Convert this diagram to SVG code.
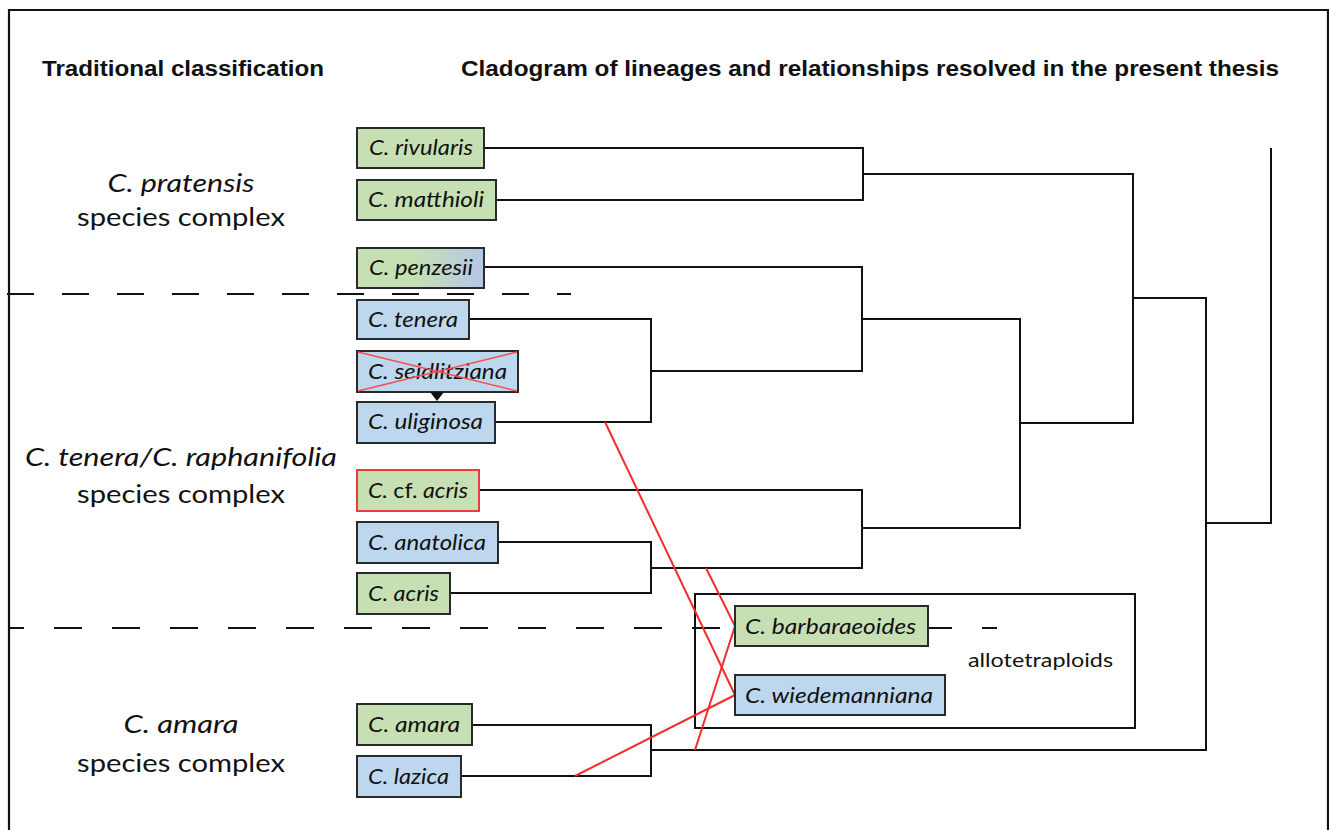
<svg xmlns="http://www.w3.org/2000/svg" width="1329" height="830" viewBox="0 0 1329 830">
<style>
.frame{fill:none;stroke:#111;stroke-width:2.2}
.hdr{font-family:"Liberation Sans",Arial,sans-serif;font-weight:bold;font-size:22px;fill:#111}
.grp{font-family:Lato,"Open Sans",sans-serif;font-size:25px;fill:#111}
.it{font-style:italic}
.lbl{font-family:Lato,"Open Sans",sans-serif;font-size:21px;font-style:italic;fill:#111}
.up{font-style:normal}
.box{stroke:#2a2a2a;stroke-width:2}
.g{fill:#c6e0b4}
.b{fill:#bdd7ee}
.dash{stroke:#111;stroke-width:2;fill:none}
.br{fill:none;stroke:#111;stroke-width:2;stroke-linejoin:miter}
.red{fill:none;stroke:#f42c2c;stroke-width:2}
.x{stroke:#f45050;stroke-width:1.4}
.note{font-family:Lato,"Open Sans",sans-serif;font-size:19px;fill:#111}
</style>
<defs>
<linearGradient id="gb" x1="0" y1="0" x2="1" y2="0">
<stop offset="0" stop-color="#c6e0b4"/>
<stop offset="0.45" stop-color="#c6e0b4"/>
<stop offset="1" stop-color="#b4c7e7"/>
</linearGradient>
</defs>
<rect width="1329" height="830" fill="#fff"/>
<path class="frame" d="M9,832 V10 H1328 V832"/>

<g id="headers">
<text class="hdr" x="42" y="76" textLength="282" lengthAdjust="spacingAndGlyphs">Traditional classification</text>
<text class="hdr" x="461" y="76" textLength="818" lengthAdjust="spacingAndGlyphs">Cladogram of lineages and relationships resolved in the present thesis</text>
</g>

<g id="groups">
<text class="grp it" x="181" y="192" text-anchor="middle" textLength="147" lengthAdjust="spacingAndGlyphs">C. pratensis</text>
<text class="grp" x="181" y="226" text-anchor="middle" textLength="208" lengthAdjust="spacingAndGlyphs">species complex</text>
<text class="grp it" x="181" y="466" text-anchor="middle" textLength="312" lengthAdjust="spacingAndGlyphs">C. tenera/C. raphanifolia</text>
<text class="grp" x="181" y="503" text-anchor="middle" textLength="208" lengthAdjust="spacingAndGlyphs">species complex</text>
<text class="grp it" x="181" y="733" text-anchor="middle" textLength="115" lengthAdjust="spacingAndGlyphs">C. amara</text>
<text class="grp" x="181" y="772" text-anchor="middle" textLength="208" lengthAdjust="spacingAndGlyphs">species complex</text>
</g>

<g id="dividers">
<line class="dash" x1="7" y1="294" x2="571" y2="294" stroke-dasharray="27 28"/>
<line class="dash" x1="10" y1="628" x2="997" y2="628" stroke-dasharray="28 30" stroke-dashoffset="14"/>
</g>

<g id="allotetraploids">
<rect x="695" y="594" width="440" height="134" fill="none" stroke="#111" stroke-width="2"/>
<text class="note" x="968" y="667" textLength="145" lengthAdjust="spacingAndGlyphs">allotetraploids</text>
</g>

<g id="connectors">
<path class="br" d="M484,148 H863 V200 H496"/>
<path class="br" d="M863,174 H1133 V423 H1020"/>
<path class="br" d="M484,267 H862 V371 H651"/>
<path class="br" d="M469,319 H651 V422 H495"/>
<path class="br" d="M862,319 H1020 V528 H862"/>
<path class="br" d="M479,490 H862 V568 H651"/>
<path class="br" d="M498,542 H651 V593 H450"/>
<path class="br" d="M472,725 H651 V776 H461"/>
<path class="br" d="M651,750 H1206 V298 H1133"/>
<path class="br" d="M1206,523 H1271 V148"/>
<path class="red" d="M605,422 L735,695"/>
<path class="red" d="M706,568 L735,626 L695,750"/>
<path class="red" d="M575,776 L735,695"/>
</g>

<g id="n-rivularis"><rect class="box g" x="357" y="128" width="127" height="40"/><text class="lbl" x="369" y="155" textLength="104" lengthAdjust="spacingAndGlyphs">C. rivularis</text></g>
<g id="n-matthioli"><rect class="box g" x="357" y="180" width="139" height="40"/><text class="lbl" x="368" y="207" textLength="116" lengthAdjust="spacingAndGlyphs">C. matthioli</text></g>
<g id="n-penzesii"><rect class="box" fill="url(#gb)" x="357" y="248" width="127" height="40"/><text class="lbl" x="369" y="275" textLength="104" lengthAdjust="spacingAndGlyphs">C. penzesii</text></g>
<g id="n-tenera"><rect class="box b" x="357" y="300" width="112" height="39"/><text class="lbl" x="368" y="327" textLength="90" lengthAdjust="spacingAndGlyphs">C. tenera</text></g>
<g id="n-seidlitziana"><rect class="box b" x="357" y="351" width="161" height="41"/><text class="lbl" x="368" y="379" textLength="139" lengthAdjust="spacingAndGlyphs">C. seidlitziana</text><line class="x" x1="358" y1="352" x2="517" y2="391"/><line class="x" x1="358" y1="391" x2="517" y2="352"/><polygon points="430,392 444,392 437,401" fill="#111"/></g>
<g id="n-uliginosa"><rect class="box b" x="357" y="402" width="138" height="41"/><text class="lbl" x="368" y="429" textLength="115" lengthAdjust="spacingAndGlyphs">C. uliginosa</text></g>
<g id="n-cfacris"><rect class="g" x="357" y="470" width="122" height="41" stroke="#f03a3a" stroke-width="2"/><text class="lbl" x="368" y="498" textLength="100" lengthAdjust="spacingAndGlyphs">C. <tspan class="up">cf.</tspan> acris</text></g>
<g id="n-anatolica"><rect class="box b" x="357" y="522" width="141" height="41"/><text class="lbl" x="368" y="550" textLength="118" lengthAdjust="spacingAndGlyphs">C. anatolica</text></g>
<g id="n-acris"><rect class="box g" x="357" y="573" width="93" height="41"/><text class="lbl" x="368" y="601" textLength="71" lengthAdjust="spacingAndGlyphs">C. acris</text></g>
<g id="n-barbaraeoides"><rect class="box g" x="735" y="606" width="193" height="40"/><text class="lbl" x="745" y="634" textLength="171" lengthAdjust="spacingAndGlyphs">C. barbaraeoides</text></g>
<g id="n-wiedemanniana"><rect class="box b" x="735" y="675" width="210" height="40"/><text class="lbl" x="745" y="703" textLength="188" lengthAdjust="spacingAndGlyphs">C. wiedemanniana</text></g>
<g id="n-amara"><rect class="box g" x="357" y="704" width="115" height="41"/><text class="lbl" x="368" y="732" textLength="92" lengthAdjust="spacingAndGlyphs">C. amara</text></g>
<g id="n-lazica"><rect class="box b" x="357" y="756" width="104" height="41"/><text class="lbl" x="368" y="784" textLength="81" lengthAdjust="spacingAndGlyphs">C. lazica</text></g>
</svg>
